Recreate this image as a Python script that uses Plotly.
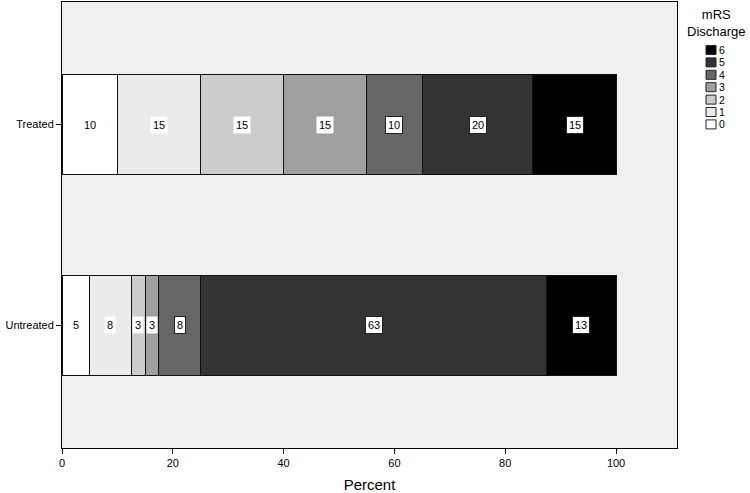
import numpy as np
import plotly.graph_objects as go

groups = ["Untreated", "Treated"]
mrs_levels = ["0", "1", "2", "3", "4", "5", "6"]
# percent per mRS level, for [Untreated, Treated]
pct = {
    "0": [5.0, 10.0],
    "1": [7.5, 15.0],
    "2": [2.5, 15.0],
    "3": [2.5, 15.0],
    "4": [7.5, 10.0],
    "5": [62.5, 20.0],
    "6": [12.5, 15.0],
}
x_ticks = [0, 20, 40, 60, 80, 100]

colors = {"0": "#ffffff", "1": "#ebebeb", "2": "#cccccc", "3": "#9f9f9f",
          "4": "#666666", "5": "#333333", "6": "#000000"}

FONT = "Liberation Sans, Arial, sans-serif"
fig = go.Figure()
for lv in mrs_levels:
    fig.add_trace(go.Bar(
        y=groups, x=pct[lv], orientation="h", name=lv,
        marker=dict(color=colors[lv], line=dict(color="#111111", width=1)),
        width=0.5, showlegend=False, hoverinfo="x+name",
    ))

annotations = []
cum = np.zeros(len(groups))
for lv in mrs_levels:
    vals = np.array(pct[lv])
    mids = cum + vals / 2
    for gi, g in enumerate(groups):
        dark = lv in ("4", "5", "6")
        annotations.append(dict(
            x=mids[gi], y=g, xref="x", yref="y", text=str(int(vals[gi] + 0.5)),
            showarrow=False, font=dict(family=FONT, size=11, color="black"),
            bgcolor="white", bordercolor="#222222" if dark else "rgba(0,0,0,0)",
            borderwidth=1, borderpad=2,
        ))
    cum = cum + vals

# custom legend (compact, like the reference)
L, R, T, B = 62, 677, 2, 448
W, H = R - L, B - T
def px_x(p):
    return (p - L) / W
def px_y(p):
    return (B - p) / H

annotations.append(dict(x=px_x(716), y=px_y(23), xref="paper", yref="paper",
                        xanchor="center", yanchor="middle",
                        text="mRS<br>Discharge", showarrow=False, align="center",
                        font=dict(family=FONT, size=13, color="black")))
shapes = []
for i, lv in enumerate(reversed(mrs_levels)):
    cy = 50 + i * 12.4
    shapes.append(dict(type="rect", xref="paper", yref="paper",
                       x0=px_x(706), x1=px_x(716), y0=px_y(cy - 4.5), y1=px_y(cy + 4.5),
                       fillcolor=colors[lv], line=dict(color="#222222", width=1)))
    annotations.append(dict(x=px_x(718), y=px_y(cy), xref="paper", yref="paper",
                            text=lv, showarrow=False, xanchor="left", yanchor="middle",
                            borderpad=0,
                            font=dict(family=FONT, size=10.5, color="black")))

fig.update_layout(
    barmode="stack",
    width=750, height=493,
    margin=dict(l=L, r=750 - R, t=T, b=493 - B),
    paper_bgcolor="white", plot_bgcolor="#f0f0f0",
    annotations=annotations, shapes=shapes,
    font=dict(family=FONT, size=11, color="black"),
    xaxis=dict(range=[0, 111], tickvals=x_ticks, ticks="outside", ticklen=5,
               tickcolor="black", showgrid=False, zeroline=False, showline=True,
               linecolor="black", linewidth=1, mirror=True,
               title=dict(text="Percent", font=dict(size=15, family=FONT), standoff=11),
               tickfont=dict(size=11, family=FONT)),
    yaxis=dict(type="category", categoryorder="array", categoryarray=groups,
               range=[-0.61, 1.61], ticks="outside", ticklen=5, tickcolor="black",
               showgrid=False, zeroline=False, showline=True, linecolor="black",
               linewidth=1, mirror=True, tickfont=dict(size=11, family=FONT)),
)

fig.write_html("out.html", config={"displayModeBar": False},
               post_script="document.body.style.margin='0';document.body.style.overflow='hidden';")
